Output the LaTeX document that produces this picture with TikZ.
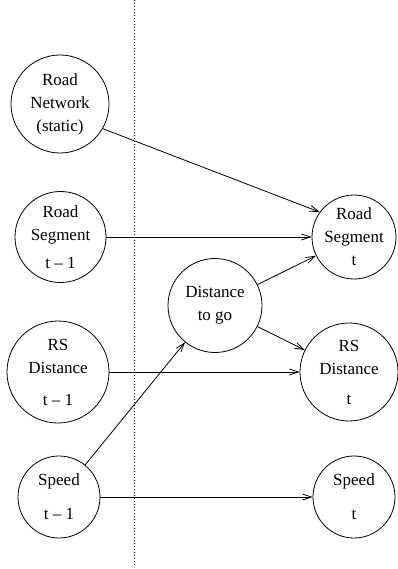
\documentclass[tikz,border=0pt]{standalone}
\usepackage{fontspec}
\newfontfamily\varfont{Liberation Serif}
\usetikzlibrary{arrows.meta}
\begin{document}
\begin{tikzpicture}[x=1pt,y=-1pt,
  var/.style={circle,draw,line width=0.8pt,inner sep=0pt,align=center,
    font=\varfont\fontsize{17}{23}\selectfont,
    execute at begin node={\rule{0pt}{19pt}}},
  link/.style={line width=0.8pt,-{Straight Barb[length=9pt,width=6pt,line width=0.8pt]}}]
  \useasboundingbox (0,0) rectangle (397,569);
  % time-slice separator
  \draw[line width=1pt,dash pattern=on 1pt off 2pt] (134,0) -- (134,567);
  % slice t-1
  \node[var,minimum size=98pt] (rn)   at (60,104)  {Road\\Network\\(static)};
  \node[var,minimum size=91pt] (rs1)  at (60.5,237) {Road\\Segment\\[5pt]t – 1};
  \node[var,minimum size=102pt] (rsd1) at (58,372)  {RS\\Distance\\[9pt]t – 1};
  \node[var,minimum size=82pt] (sp1)  at (59,497)  {Speed\\[11pt]t – 1};
  % derived quantity
  \node[var,minimum size=94pt] (dtg)  at (215,305.5) {Distance\\to go};
  % slice t
  \node[var,minimum size=84pt] (rst)  at (354,237)  {Road\\Segment\\t};
  \node[var,minimum size=98pt] (rsdt) at (349,372)  {RS\\Distance\\[7pt]t};
  \node[var,minimum size=82pt] (spt)  at (354,497)  {Speed\\[11pt]t};
  % dependencies
  \draw[link] (rn.-30) -- (rst.144);
  \draw[link] (rs1) -- (rst);
  \draw[link] (dtg) -- (rst);
  \draw[link] (dtg) -- (rsdt);
  \draw[link] (rsd1) -- (rsdt);
  \draw[link] (sp1) -- (dtg);
  \draw[link] (sp1) -- (spt);
\end{tikzpicture}
\end{document}
